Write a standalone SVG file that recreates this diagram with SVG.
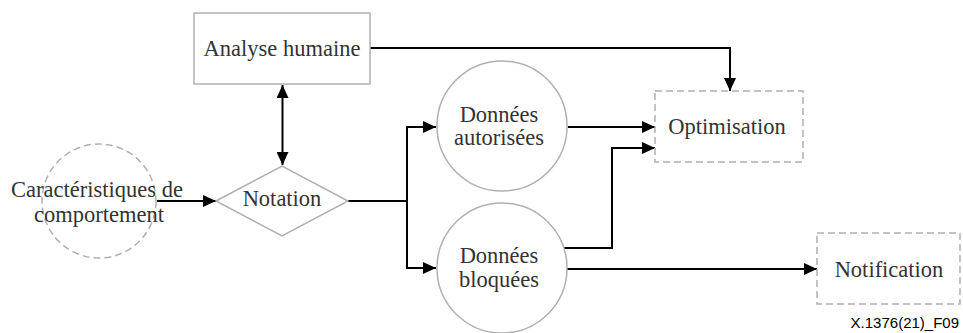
<svg xmlns="http://www.w3.org/2000/svg" width="963" height="333" viewBox="0 0 963 333">
  <style>
    .shape { fill: #ffffff; stroke: #b0b0b0; stroke-width: 1.5; }
    .hollow { fill: none; }
    .dashed { stroke-dasharray: 7 4; }
    .label { font-family: 'Liberation Serif', serif; font-size: 22.5px; fill: #333333; text-anchor: middle; }
    .edge { fill: none; stroke: #000000; stroke-width: 2; }
    .tag { font-family: 'Liberation Sans', sans-serif; font-size: 15px; fill: #000000; text-anchor: end; }
  </style>
  <defs>
    <marker id="arrow" viewBox="0 0 13 12" refX="13" refY="6" markerWidth="13" markerHeight="12" markerUnits="userSpaceOnUse" orient="auto-start-reverse">
      <path d="M0,0 L13,6 L0,12 Z" fill="#000000"/>
    </marker>
  </defs>

  <g id="connectors">
    <!-- Analyse humaine <-> Notation -->
    <path class="edge" d="M282.5,85 L282.5,165" marker-start="url(#arrow)" marker-end="url(#arrow)"/>
    <!-- Analyse humaine -> Optimisation -->
    <path class="edge" d="M370,48 L730,48 L730,91"/>
    <path class="edge" d="M730,80 L730,91" marker-end="url(#arrow)"/>
    <!-- Caractéristiques -> Notation -->
    <path class="edge" d="M157,201 L216,201" marker-end="url(#arrow)"/>
    <!-- Notation -> split -->
    <path class="edge" d="M348,201 L407,201"/>
    <path class="edge" d="M436,127 L407,127 L407,268 L436,268"/>
    <path class="edge" d="M420,127 L436,127" marker-end="url(#arrow)"/>
    <path class="edge" d="M420,268 L436,268" marker-end="url(#arrow)"/>
    <!-- Données autorisées -> Optimisation -->
    <path class="edge" d="M568,127 L655,127" marker-end="url(#arrow)"/>
    <!-- Données bloquées -> Optimisation -->
    <path class="edge" d="M564,248 L612,248 L612,148 L655,148" marker-end="url(#arrow)"/>
    <!-- Données bloquées -> Notification -->
    <path class="edge" d="M567,269 L817,269" marker-end="url(#arrow)"/>
  </g>

  <g id="analyse-humaine">
    <rect class="shape" x="194" y="13" width="176" height="71"/>
    <text class="label" x="282" y="55.5">Analyse humaine</text>
  </g>

  <g id="caracteristiques">
    <circle class="shape hollow dashed" cx="99" cy="201" r="57"/>
    <text class="label" x="97" y="197">Caractéristiques de</text>
    <text class="label" x="99" y="222">comportement</text>
  </g>

  <g id="notation">
    <polygon class="shape" points="216,201 282,166 348,201 282,236"/>
    <text class="label" x="282" y="206">Notation</text>
  </g>

  <g id="donnees-autorisees">
    <circle class="shape" cx="502" cy="126" r="65"/>
    <text class="label" x="499" y="121.5">Données</text>
    <text class="label" x="499" y="145">autorisées</text>
  </g>

  <g id="donnees-bloquees">
    <circle class="shape" cx="502" cy="268" r="65"/>
    <text class="label" x="499" y="263">Données</text>
    <text class="label" x="499" y="287">bloquées</text>
  </g>

  <g id="optimisation">
    <rect class="shape dashed" x="655" y="91" width="148" height="71"/>
    <text class="label" x="727" y="134">Optimisation</text>
  </g>

  <g id="notification">
    <rect class="shape dashed" x="817" y="233" width="143" height="71"/>
    <text class="label" x="889" y="277">Notification</text>
  </g>

  <text class="tag" x="959" y="328">X.1376(21)_F09</text>
</svg>
